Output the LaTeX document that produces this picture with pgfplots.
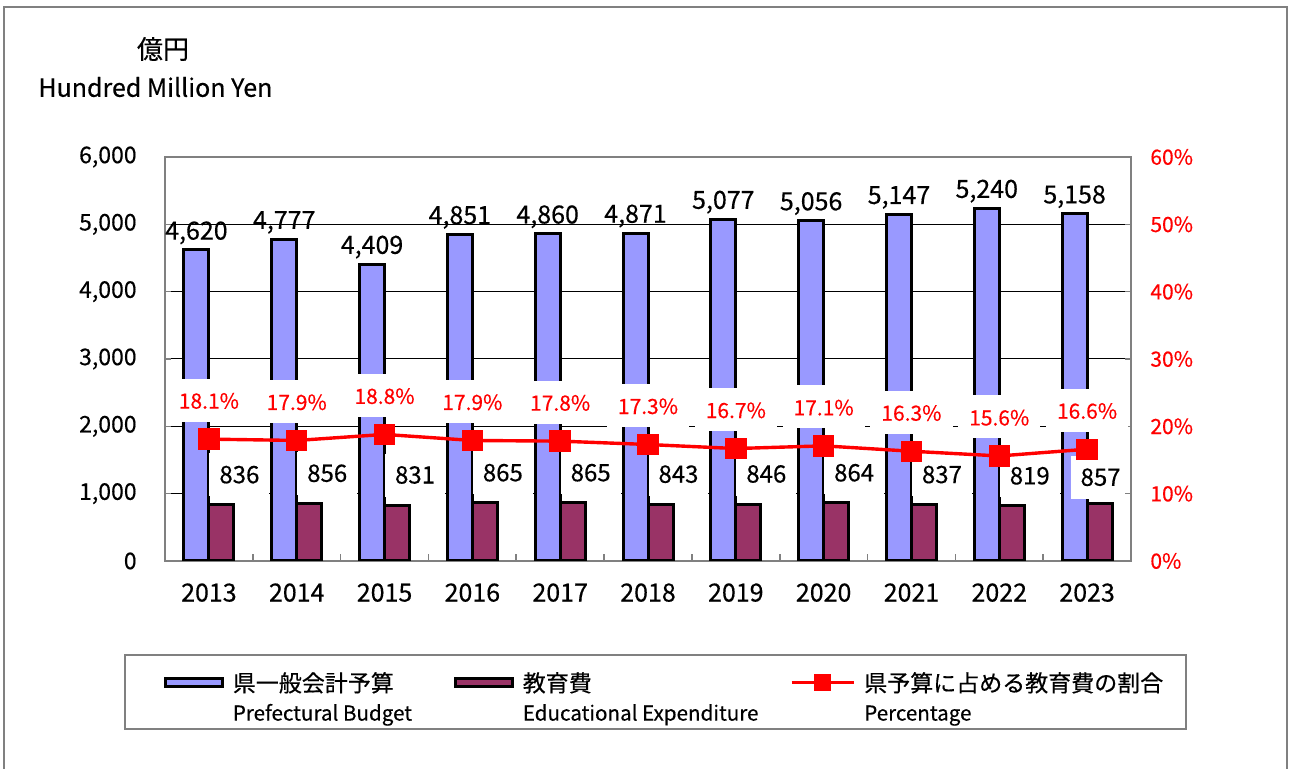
\documentclass[border=0pt]{standalone}
\usepackage{fontspec}
\setmainfont{Noto Sans CJK JP}[FakeBold=0.4]
\usepackage{pgfplots}
\usepackage{pgfplotstable}
\pgfplotsset{compat=1.18}

\definecolor{budget}{HTML}{9999FF}
\definecolor{edu}{HTML}{993366}
\definecolor{framegray}{HTML}{808080}

\pgfplotsset{
  bar legend box/.style={legend image code/.code={
    \path[draw=none, fill=none] (0pt,-18.5pt) rectangle (1pt,18.5pt);
    \draw[##1, line width=1.5pt] (0.75pt,2.5pt) rectangle (29.25pt,6.5pt);}},
  line legend mark/.style={legend image code/.code={
    \path[draw=none, fill=none] (0pt,-18.5pt) rectangle (1pt,18.5pt);
    \draw[##1, mark repeat=2, mark phase=2] plot coordinates {(0pt,4.5pt) (15.5pt,4.5pt) (31pt,4.5pt)};}},
}
% two line legend text: Japanese line, English line below
\newcommand{\legtext}[3]{\parbox[c][37pt][t]{#1}{\rule{0pt}{11.4pt}#2\\{\fontsize{10.3}{14.5}\selectfont #3}}}

% x = category index, budget and edu in 100 million yen, pct in %
\pgfplotstableread{
x year budget edu pct
0 2013 4620 836 18.1
1 2014 4777 856 17.9
2 2015 4409 831 18.8
3 2016 4851 865 17.9
4 2017 4860 865 17.8
5 2018 4871 843 17.3
6 2019 5077 846 16.7
7 2020 5056 864 17.1
8 2021 5147 837 16.3
9 2022 5240 819 15.6
10 2023 5158 857 16.6
}\data

\begin{document}
\begin{tikzpicture}
\useasboundingbox (0,0) rectangle (645pt,384.5pt);
\draw[framegray, line width=0.8pt] (2pt,0) -- (2pt,381pt) -- (643.5pt,381pt) -- (643.5pt,0);
\node[font=\fontsize{13}{15}\selectfont, inner sep=0pt] at (81.5pt,360pt) {億円};
\node[anchor=west, font=\fontsize{12.5}{15}\selectfont, inner sep=0pt] at (19pt,341pt) {Hundred Million Yen};

\begin{axis}[
  at={(82.5pt,104pt)}, anchor=south west, scale only axis,
  width=483pt, height=202pt,
  xmin=-0.5, xmax=10.5, ymin=0, ymax=6000,
  ytick={0,1000,...,6000},
  xtick={0,...,10},
  xticklabels={2013,2014,2015,2016,2017,2018,2019,2020,2021,2022,2023},
  minor xtick={0.5,1.5,...,9.5},
  xtick pos=bottom, ytick pos=left,
  tick align=inside,
  major tick length=3pt, minor tick length=3.5pt,
  tick style={framegray, line width=0.8pt},
  major x tick style={draw=none},
  axis line style={framegray, line width=1.2pt},
  ymajorgrids, major grid style={black, line width=0.5pt},
  /pgf/number format/assume math mode=true,
  /pgf/number format/1000 sep={,},
  ticklabel style={font=\fontsize{12.5}{14}\selectfont, inner sep=0pt},
  yticklabel style={xshift=-14pt, font=\fontsize{11.5}{14}\selectfont},
  xticklabel style={yshift=-11pt},
  legend columns=3,
  legend cell align=left,
  legend style={at={(-0.0424,-0.2302)}, anchor=north west,
    draw=framegray, line width=0.8pt, inner xsep=19.5pt, inner ysep=0pt,
    font=\fontsize{11.5}{14.5}\selectfont,
    cells={inner sep=0pt},
    /tikz/every odd column/.append style={column sep=2.5pt}},
]
\addplot[ybar, bar width=12.5pt, bar shift=-6.25pt, fill=budget, draw=black, line width=1.5pt, bar legend box]
  table[x=x, y=budget] {\data};
\addlegendentry{\legtext{108.5pt}{県一般会計予算}{Prefectural Budget}}
\addplot[ybar, bar width=12.5pt, bar shift=6.25pt, fill=edu, draw=black, line width=1.5pt, bar legend box]
  table[x=x, y=edu] {\data};
\addlegendentry{\legtext{131.5pt}{教育費}{Educational Expenditure}}
\addlegendimage{red, line width=1.7pt, mark=square*, mark size=3.5pt, line legend mark}
\addlegendentry{\legtext{139.5pt}{県予算に占める教育費の割合}{Percentage}}

% budget labels
\addplot[draw=none, mark=none, forget plot, nodes near coords,
  nodes near coords align={anchor=center},
  nodes near coords style={font=\fontsize{12.5}{14}\selectfont, xshift=-6.25pt, yshift=8.5pt, inner sep=0pt}]
  table[x=x, y=budget] {\data};
% education labels
\addplot[draw=none, mark=none, forget plot, nodes near coords,
  restrict x to domain=0:9,
  nodes near coords align={anchor=center},
  nodes near coords style={font=\fontsize{12}{14}\selectfont, xshift=15.25pt, yshift=15pt,
    fill=white, inner xsep=5pt, inner ysep=6.5pt, text height=8.5pt, text depth=0pt}]
  table[x=x, y=edu] {\data};
\addplot[draw=none, mark=none, forget plot, nodes near coords,
  restrict x to domain=10:10,
  nodes near coords align={anchor=center},
  nodes near coords style={font=\fontsize{12}{14}\selectfont, xshift=6.75pt, yshift=13pt,
    fill=white, inner xsep=5pt, inner ysep=6.5pt, text height=8.5pt, text depth=0pt}]
  table[x=x, y=edu] {\data};
\end{axis}

\begin{axis}[
  at={(82.5pt,104pt)}, anchor=south west, scale only axis,
  width=483pt, height=202pt,
  xmin=-0.5, xmax=10.5, ymin=0, ymax=60,
  axis x line=none, axis y line*=right,
  ytick={0,10,...,60},
  yticklabel={\pgfmathprintnumber{\tick}\%},
  tick align=inside, major tick length=3pt,
  tick style={framegray, line width=0.8pt},
  axis line style={framegray, line width=1.2pt},
  /pgf/number format/assume math mode=true,
  ticklabel style={font=\fontsize{10.5}{14}\selectfont, inner sep=0pt, text=red},
  yticklabel style={xshift=9.5pt},
]
\addplot[red, line width=1.7pt, mark=square*, mark size=4.5pt,
  nodes near coords={\pgfmathprintnumber[fixed, fixed zerofill, precision=1]{\pgfplotspointmeta}\%},
  nodes near coords align={anchor=center},
  nodes near coords style={font=\fontsize{10.5}{14}\selectfont, text=red, yshift=19.5pt,
    fill=white, inner xsep=5.5pt, inner ysep=6.5pt, text height=8.5pt, text depth=0pt}]
  table[x=x, y=pct] {\data};
\end{axis}
\end{tikzpicture}
\end{document}
